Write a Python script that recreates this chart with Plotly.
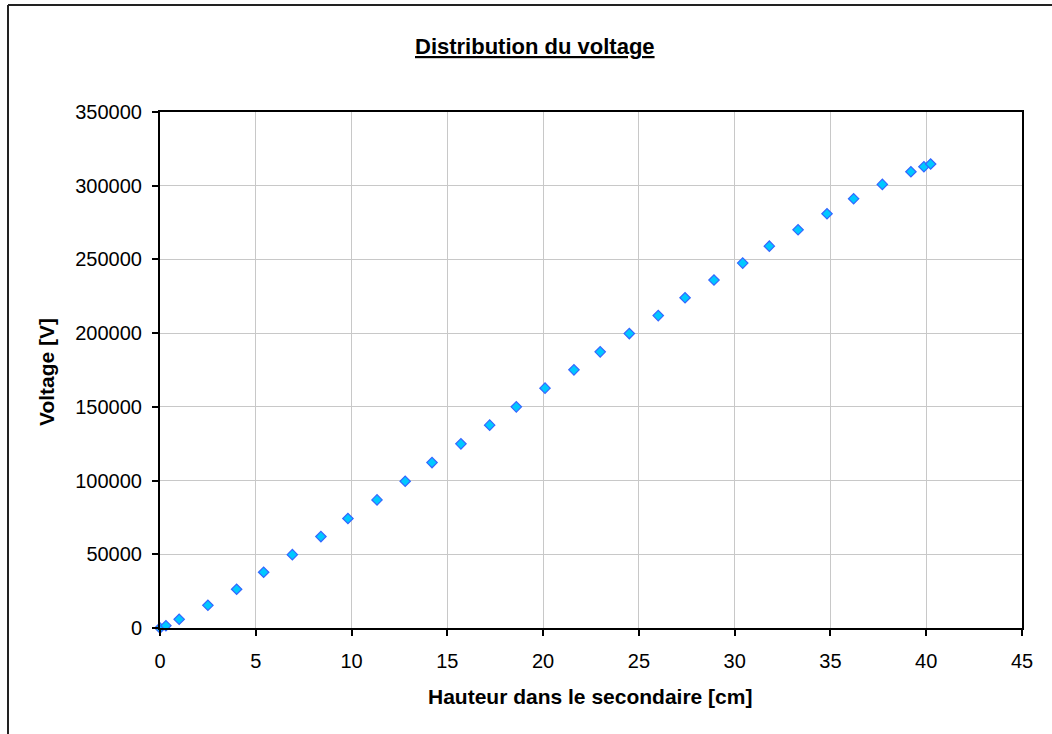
import plotly.graph_objects as go

hauteur_cm = [0.0, 0.31, 1.0, 2.5, 4.0, 5.41, 6.91, 8.4, 9.81, 11.33, 12.8, 14.2,
              15.71, 17.21, 18.6, 20.1, 21.61, 22.98, 24.5, 26.01, 27.41, 28.92,
              30.42, 31.81, 33.31, 34.82, 36.21, 37.71, 39.2, 39.88, 40.23]
voltage_v = [0, 1560, 5900, 15400, 26300, 37800, 49750, 62000, 74300, 86900,
             99560, 112200, 124900, 137600, 150000, 162700, 175100, 187300,
             199700, 211900, 224000, 236000, 247500, 259000, 270100, 281000,
             291200, 300900, 309500, 312900, 314700]

title_text = "Distribution du voltage"
x_title = "Hauteur dans le secondaire [cm]"
y_title = "Voltage [V]"

W, H = 1052, 734
L, R, T, B = 160, 30, 112, 106
pw, ph = W - L - R, H - T - B

def px_x(p):
    return (p - L) / pw

def px_y(p):
    return (H - B - p) / ph

font = "Liberation Sans, Arial, sans-serif"

fig = go.Figure()
fig.add_trace(go.Scatter(
    x=hauteur_cm, y=voltage_v, mode="markers",
    marker=dict(symbol="diamond", size=8, color="#00c8ff",
                line=dict(color="#3366ff", width=1.2)),
    cliponaxis=False, showlegend=False,
))

fig.update_layout(
    width=W, height=H,
    margin=dict(l=L, r=R, t=T, b=B),
    paper_bgcolor="white", plot_bgcolor="white",
    font=dict(family=font, size=20, color="black"),
    annotations=[
        dict(text="<b><u>" + title_text + "</u></b>", xref="paper", yref="paper",
             x=px_x(535), y=px_y(46), xanchor="center", yanchor="middle",
             showarrow=False, font=dict(size=22, family=font)),
        dict(text="<b>" + x_title + "</b>", xref="paper", yref="paper",
             x=px_x(590), y=px_y(696), xanchor="center", yanchor="middle",
             showarrow=False, font=dict(size=21, family=font)),
        dict(text="<b>" + y_title + "</b>", xref="paper", yref="paper",
             x=px_x(46), y=px_y(372), xanchor="center", yanchor="middle",
             textangle=-90, showarrow=False, font=dict(size=21, family=font)),
    ],
    shapes=[
        dict(type="line", xref="paper", yref="paper", x0=px_x(8), x1=px_x(1060),
             y0=px_y(5), y1=px_y(5), line=dict(color="#222222", width=2)),
        dict(type="line", xref="paper", yref="paper", x0=px_x(8), x1=px_x(8),
             y0=px_y(5), y1=px_y(740), line=dict(color="#222222", width=2)),
    ],
)

fig.update_xaxes(
    range=[0, 45], tick0=0, dtick=5, showgrid=True, gridcolor="#c8c8c8", gridwidth=1,
    showline=True, linecolor="black", linewidth=2, mirror=True,
    ticks="outside", ticklen=6, tickcolor="black", tickwidth=1.5,
    zeroline=False, tickfont=dict(size=20), ticklabelstandoff=8,
)
fig.update_yaxes(
    range=[0, 350000], tick0=0, dtick=50000, showgrid=True, gridcolor="#c8c8c8", gridwidth=1,
    showline=True, linecolor="black", linewidth=2, mirror=True,
    ticks="outside", ticklen=6, tickcolor="black", tickwidth=1.5,
    zeroline=False, tickfont=dict(size=20), tickformat="d", ticklabelstandoff=6,
)

fig.write_html("out.html", config={"displayModeBar": False},
               post_script="document.body.style.margin='0';document.body.style.overflow='hidden';")
